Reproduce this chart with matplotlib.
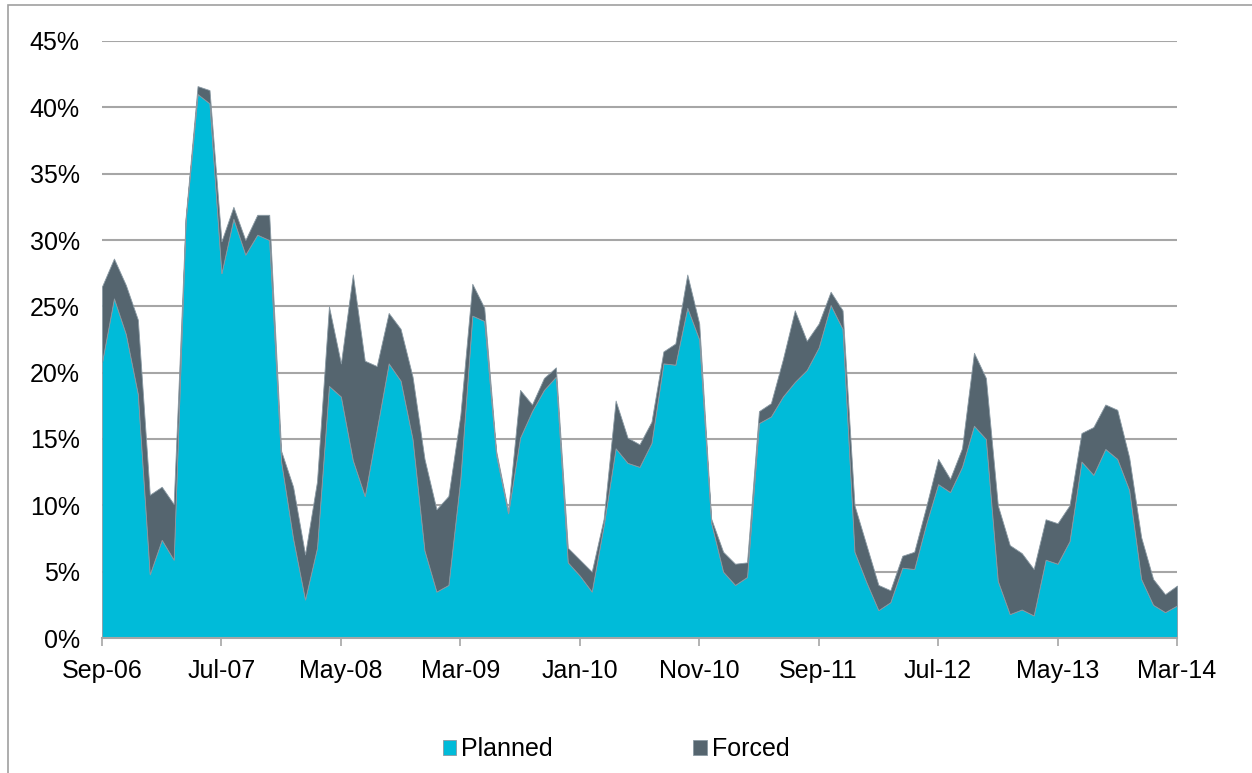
import matplotlib
matplotlib.use("Agg")
import matplotlib.pyplot as plt
from matplotlib.patches import Rectangle
from matplotlib.ticker import FuncFormatter
import numpy as np
import pandas as pd

# monthly outage share (%), Sep-2006 .. Mar-2014
months = pd.date_range("2006-09-01", "2014-03-01", freq="MS")
planned = [20.8, 25.6, 22.9, 18.4, 4.8, 7.4, 5.9, 31.5, 41.0, 40.3,
           27.5, 31.6, 28.9, 30.4, 30.0, 13.3, 7.5, 2.9, 6.8, 19.0,
           18.2, 13.4, 10.7, 15.7, 20.7, 19.4, 15.0, 6.6, 3.5, 4.0,
           12.0, 24.3, 23.9, 13.8, 9.4, 15.1, 17.1, 18.7, 19.7, 5.7,
           4.7, 3.5, 8.5, 14.3, 13.2, 12.9, 14.7, 20.7, 20.6, 24.9,
           22.5, 8.7, 5.0, 4.0, 4.6, 16.2, 16.7, 18.2, 19.3, 20.2,
           21.9, 25.1, 23.3, 6.5, 4.2, 2.1, 2.7, 5.3, 5.2, 8.6,
           11.6, 11.0, 12.9, 16.0, 15.0, 4.3, 1.8, 2.15, 1.7, 5.9,
           5.6, 7.3, 13.3, 12.3, 14.25, 13.5, 11.15, 4.45, 2.5, 1.95,
           2.45]
forced = [5.7, 3.0, 3.7, 5.6, 6.0, 4.0, 4.2, 0.2, 0.6, 1.0,
          2.4, 0.9, 1.1, 1.5, 1.9, 0.8, 3.9, 3.4, 5.0, 6.0,
          2.5, 14.0, 10.2, 4.8, 3.8, 3.9, 4.7, 6.9, 6.2, 6.7,
          4.8, 2.4, 1.0, 0.3, 0.2, 3.6, 0.5, 0.9, 0.7, 1.1,
          1.2, 1.5, 0.5, 3.6, 1.9, 1.7, 1.6, 0.9, 1.6, 2.5,
          1.2, 0.3, 1.5, 1.6, 1.1, 0.9, 1.0, 2.8, 5.4, 2.2,
          1.8, 1.0, 1.4, 3.5, 2.8, 1.9, 0.9, 0.9, 1.3, 1.3,
          1.9, 1.0, 1.4, 5.5, 4.6, 5.7, 5.2, 4.25, 3.5, 3.05,
          3.05, 2.7, 2.15, 3.6, 3.35, 3.7, 2.45, 3.15, 1.95, 1.35,
          1.5]
tick_labels = ["Sep-06", "Jul-07", "May-08", "Mar-09", "Jan-10",
               "Nov-10", "Sep-11", "Jul-12", "May-13", "Mar-14"]

C_PLAN = "#00BBD9"
C_FORCED = "#55656F"
GRID = "#A6A6A6"

plt.rcParams["font.family"] = ["Liberation Sans", "DejaVu Sans"]

fig = plt.figure(figsize=(12.52, 7.73), dpi=100)
ax = fig.add_axes([102 / 1252, 1 - 638 / 773, (1177 - 102) / 1252, (638 - 41) / 773])

x = np.arange(len(months))
ax.stackplot(x, planned, forced, colors=[C_PLAN, C_FORCED],
             labels=["Planned", "Forced"], linewidth=0.6,
             edgecolor="#8a9aa4", zorder=2)

ax.set_xlim(0, len(months) - 1)
ax.set_ylim(0, 45)
ax.set_yticks(np.arange(0, 46, 5))
ax.yaxis.set_major_formatter(FuncFormatter(lambda v, _: f"{v:.0f}%"))
ax.set_xticks(x[::10])
ax.set_xticklabels(tick_labels)

ax.grid(axis="y", color=GRID, linewidth=1.5)
ax.set_axisbelow(True)
for s in ("left", "right", "top"):
    ax.spines[s].set_visible(False)
ax.spines["bottom"].set_color(GRID)
ax.spines["bottom"].set_linewidth(1.5)
ax.spines["bottom"].set_zorder(3)
ax.tick_params(axis="y", length=0, pad=16, labelsize=18)
ax.tick_params(axis="x", direction="out", length=6, width=1.2, color=GRID,
               pad=9, labelsize=18)

# outer chart frame
fig.patches.append(Rectangle((8 / 1252, -0.1), 1.2, 1.1 - 5 / 773,
                             transform=fig.transFigure, fill=False,
                             edgecolor="#A0A0A0", linewidth=1.2))

fig.legend(loc="center", bbox_to_anchor=(0.492, 0.031), ncol=2, frameon=False,
           fontsize=18, handlelength=0.55, handleheight=0.55,
           handletextpad=0.2, columnspacing=5.6)

fig.savefig("out.png", dpi=100)
